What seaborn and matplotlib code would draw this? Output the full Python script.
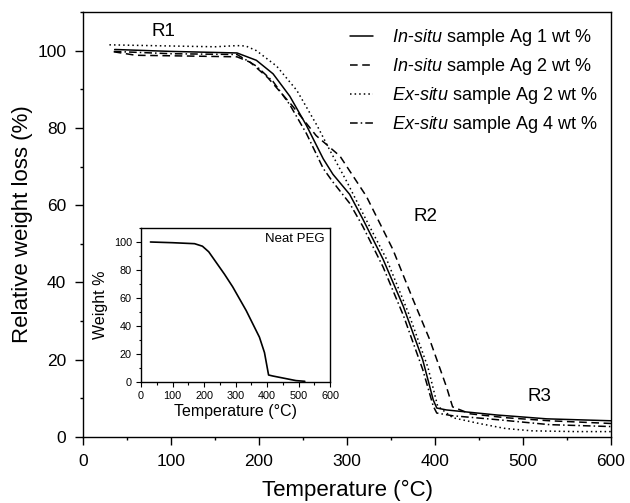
import numpy as np
import pandas as pd
import matplotlib
matplotlib.use("Agg")
import matplotlib.pyplot as plt
from matplotlib.ticker import MultipleLocator
import seaborn as sns

# ---- data ----
x_insitu1 = [36, 100, 175, 197, 216, 235, 254, 273, 284, 303, 318, 341, 364, 386, 398, 402, 413, 470, 527, 600]
y_insitu1 = [100.3, 99.8, 99.4, 97.5, 94, 88.2, 80.6, 72, 68, 62.8, 56.4, 46, 33.8, 20, 9.6, 7.5, 7, 5.7, 4.7, 4.2]

x_insitu2 = [35, 60, 120, 175, 190, 210, 238, 265, 292, 322, 352, 375, 394, 413, 420, 440, 480, 530, 600]
y_insitu2 = [99.7, 98.8, 98.6, 98.4, 97, 93, 85.7, 78, 72.7, 62.3, 48.6, 35.6, 25.2, 13, 7.8, 6, 5, 4.2, 3.5]

x_exsitu2 = [30, 100, 150, 175, 185, 197, 220, 243, 266, 281, 300, 320, 345, 370, 392, 403, 420, 450, 480, 510, 560, 600]
y_exsitu2 = [101.5, 101.2, 101, 101.3, 101.2, 100, 96, 89.7, 80.6, 74, 66, 57, 46, 32, 18, 8, 5, 3.5, 2.2, 1.6, 1.4, 1.4]

x_exsitu4 = [35, 100, 175, 197, 216, 235, 254, 273, 284, 303, 318, 341, 364, 386, 398, 402, 420, 470, 530, 600]
y_exsitu4 = [99.8, 99.2, 99, 96, 92, 86, 78.5, 69.5, 66, 60.5, 54.5, 44, 31.5, 17.5, 8, 6.2, 5.5, 4.5, 3.2, 2.7]

x_peg = [30, 100, 170, 195, 215, 240, 265, 291, 334, 376, 392, 405, 418, 492, 520]
y_peg = [100, 99.5, 98.8, 97, 93, 85, 77, 68, 51, 32, 21, 5, 4.3, 1, 0.5]

labels = [r"$\mathit{In}$-$\mathit{situ}$ sample Ag 1 wt %",
          r"$\mathit{In}$-$\mathit{situ}$ sample Ag 2 wt %",
          r"$\mathit{Ex}$-$\mathit{situ}$ sample Ag 2 wt %",
          r"$\mathit{Ex}$-$\mathit{situ}$ sample Ag 4 wt %"]
region_labels = ["R1", "R2", "R3"]

# ---- style ----
sns.set_style("ticks")
plt.rcParams["font.family"] = ["Liberation Sans", "DejaVu Sans"]
plt.rcParams["mathtext.fontset"] = "custom"
plt.rcParams["mathtext.rm"] = "Liberation Sans"
plt.rcParams["mathtext.it"] = "Liberation Sans:italic"
plt.rcParams["axes.edgecolor"] = "black"
plt.rcParams["axes.linewidth"] = 1.0
plt.rcParams["xtick.color"] = "black"
plt.rcParams["ytick.color"] = "black"
plt.rcParams["text.color"] = "black"
plt.rcParams["axes.labelcolor"] = "black"
plt.rcParams["xtick.labelcolor"] = "black"
plt.rcParams["ytick.labelcolor"] = "black"

fig = plt.figure(figsize=(6.3, 5.03), dpi=100)
ax = fig.add_axes([83/630, 1-437/503, (611-83)/630, (437-12)/503])

series = [(x_insitu1, y_insitu1, "-"),
          (x_insitu2, y_insitu2, (0, (5, 3))),
          (x_exsitu2, y_exsitu2, (0, (1, 2))),
          (x_exsitu4, y_exsitu4, (0, (5, 2, 1, 2)))]
for (xs, ys, ls), lab in zip(series, labels):
    sns.lineplot(x=xs, y=ys, ax=ax, color="black", linewidth=1.1,
                 linestyle=ls, label=lab, estimator=None, sort=False)

ax.set_xlim(0, 600)
ax.set_ylim(0, 110)
ax.xaxis.set_major_locator(MultipleLocator(100))
ax.xaxis.set_minor_locator(MultipleLocator(50))
ax.yaxis.set_major_locator(MultipleLocator(20))
ax.yaxis.set_minor_locator(MultipleLocator(10))
ax.tick_params(which="major", direction="out", length=6, width=1, labelsize=12.5, pad=6)
ax.tick_params(which="minor", direction="out", length=2.5, width=1)
for s in ax.spines.values():
    s.set_visible(True)
ax.set_xlabel("Temperature (°C)", fontsize=16, labelpad=8)
ax.set_ylabel("Relative weight loss (%)", fontsize=16, labelpad=3)

ax.text(91, 105, region_labels[0], fontsize=13.5, ha="center", va="center")
ax.text(389, 57, region_labels[1], fontsize=13.5, ha="center", va="center")
ax.text(519, 10.4, region_labels[2], fontsize=13.5, ha="center", va="center")

leg = ax.legend(loc="upper left", bbox_to_anchor=(350/630, 1-27/503),
                bbox_transform=fig.transFigure, frameon=False, fontsize=13,
                handlelength=1.3, handletextpad=1.0, labelspacing=0.45,
                borderpad=0, borderaxespad=0)

# ---- inset ----
axi = fig.add_axes([141/630, 1-382/503, (330-141)/630, (382-228)/503])
sns.lineplot(x=x_peg, y=y_peg, ax=axi, color="black", linewidth=1.2,
             estimator=None, sort=False)
axi.set_xlim(0, 600)
axi.set_ylim(0, 110)
axi.xaxis.set_major_locator(MultipleLocator(100))
axi.xaxis.set_minor_locator(MultipleLocator(50))
axi.yaxis.set_major_locator(MultipleLocator(20))
axi.yaxis.set_minor_locator(MultipleLocator(10))
axi.tick_params(which="major", direction="out", length=3.5, width=0.8, labelsize=7.8, pad=3)
axi.tick_params(which="minor", direction="out", length=1.8, width=0.8)
for s in axi.spines.values():
    s.set_visible(True)
    s.set_linewidth(1.0)
axi.set_xlabel("Temperature (°C)", fontsize=11.5, labelpad=2)
axi.set_ylabel("Weight %", fontsize=11.5, labelpad=4)
axi.text(0.97, 0.93, "Neat PEG", transform=axi.transAxes, fontsize=9.5,
         ha="right", va="center")

fig.savefig("out.png", dpi=100)
